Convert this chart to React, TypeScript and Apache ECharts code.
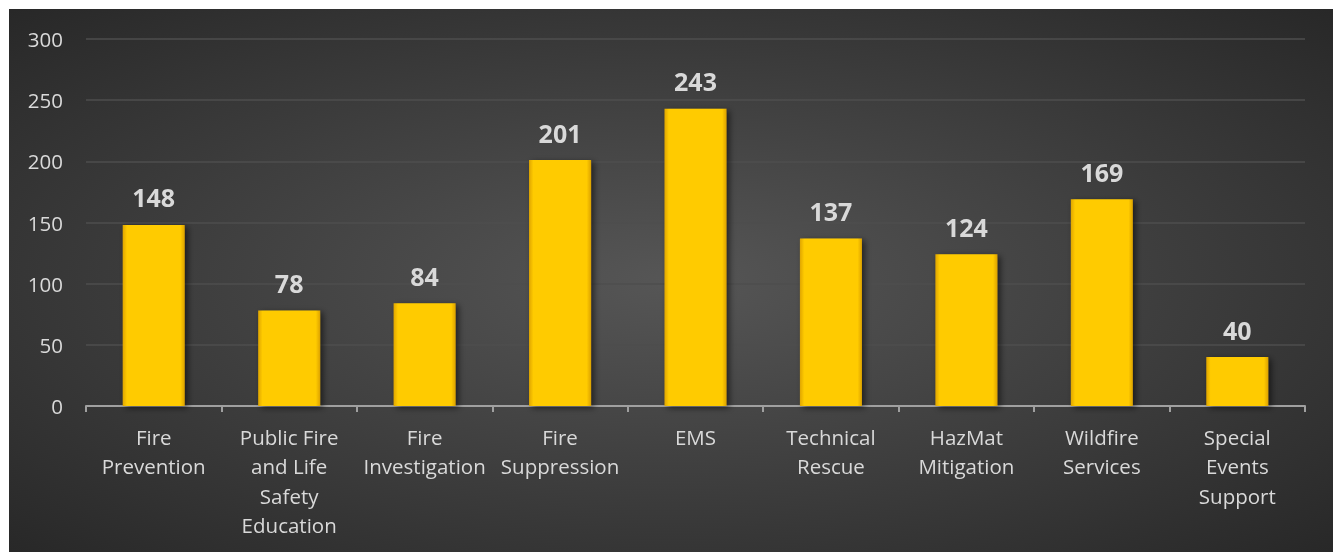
import React, { useEffect, useRef } from "react";
import * as echarts from "echarts";

const categories = [
  "Fire\nPrevention",
  "Public Fire\nand Life\nSafety\nEducation",
  "Fire\nInvestigation",
  "Fire\nSuppression",
  "EMS",
  "Technical\nRescue",
  "HazMat\nMitigation",
  "Wildfire\nServices",
  "Special\nEvents\nSupport",
];
const values = [148, 78, 84, 201, 243, 137, 124, 169, 40];
const yTicks = { min: 0, max: 300, interval: 50 };

const FONT = "'Open Sans', Lato, sans-serif";

export default function App() {
  const ref = useRef<HTMLDivElement>(null);
  useEffect(() => {
    if (!ref.current) return;
    const chart = echarts.init(ref.current, undefined, { renderer: "svg" });
    chart.setOption({
      animation: false,
      backgroundColor: new echarts.graphic.RadialGradient(0.5, 0.5, 0.75, [
        { offset: 0, color: "#565656" },
        { offset: 1, color: "#252525" },
      ]),
      textStyle: { fontFamily: FONT },
      grid: { left: 77, right: 28, top: 30, bottom: 146, containLabel: false },
      xAxis: {
        type: "category",
        data: categories,
        boundaryGap: true,
        axisLine: { lineStyle: { color: "#a0a0a0", width: 2 } },
        axisTick: { show: true, length: 6, lineStyle: { color: "#a0a0a0", width: 2 } },
        axisLabel: {
          color: "#d9d9d9",
          fontSize: 20.5,
          lineHeight: 29.5,
          margin: 16,
          interval: 0,
          fontFamily: FONT,
        },
      },
      yAxis: {
        type: "value",
        min: yTicks.min,
        max: yTicks.max,
        interval: yTicks.interval,
        axisLine: { show: false },
        axisTick: { show: false },
        splitLine: { lineStyle: { color: "#4e4e4e", width: 1.5 } },
        axisLabel: { color: "#d9d9d9", fontSize: 20.5, margin: 23, fontFamily: FONT },
      },
      series: [
        {
          type: "bar",
          data: values,
          barWidth: 62,
          itemStyle: {
            color: new echarts.graphic.LinearGradient(0, 0, 1, 0, [
              { offset: 0, color: "#e0a600" },
              { offset: 0.07, color: "#ffcb00" },
              { offset: 0.93, color: "#ffcb00" },
              { offset: 1, color: "#dca200" },
            ]),
            shadowColor: "rgba(0,0,0,0.55)",
            shadowBlur: 6,
            shadowOffsetX: 3,
            shadowOffsetY: 2,
          },
          label: {
            show: true,
            position: "top",
            distance: 15,
            color: "#d9d9d9",
            fontSize: 25,
            fontWeight: "bold",
            fontFamily: FONT,
          },
        },
      ],
    });
    return () => chart.dispose();
  }, []);
  return (
    <div
      ref={ref}
      style={{ position: "fixed", left: 9, top: 9, width: 1324, height: 543 }}
    />
  );
}
